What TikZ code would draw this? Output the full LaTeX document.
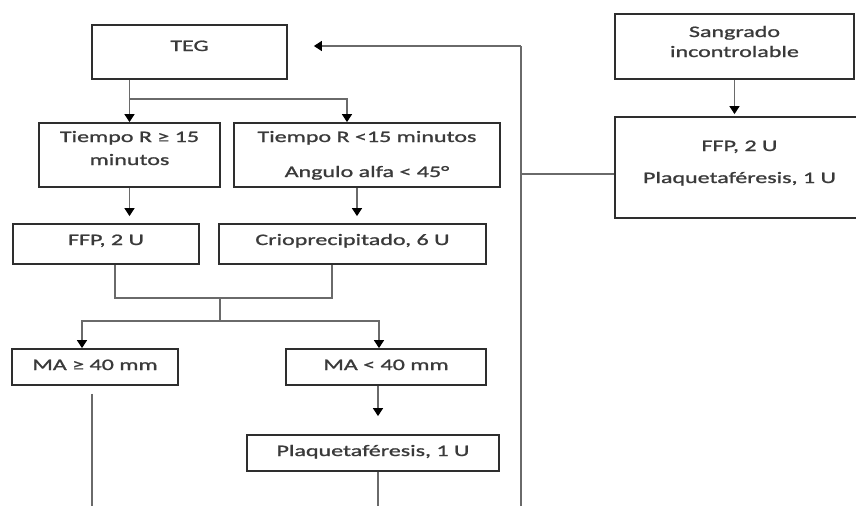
\documentclass[tikz,border=0pt]{standalone}
\usepackage{fontspec}
\setmainfont{Carlito}[FakeStretch=1.5,FakeBold=1.2]
\usetikzlibrary{arrows.meta}
\definecolor{ink}{HTML}{3A3A3A}
\definecolor{frame}{HTML}{2E2E2E}
\definecolor{wire}{HTML}{6A6A6A}
\begin{document}
\begin{tikzpicture}[x=1pt,y=-1pt,
  box/.style={draw=frame, line width=1.8pt, inner sep=0pt, fill=none},
  txt/.style={anchor=base, text=ink, inner sep=0pt, font=\fontsize{16}{19}\selectfont},
  wireline/.style={draw=wire, line width=1.4pt},
  arrowline/.style={wireline, -{Triangle[width=10pt,length=8pt,black]}}]
\useasboundingbox (0,0) rectangle (856,506);
\clip (0,0) rectangle (856,506);
\fill[white] (0,0) rectangle (856,506);

% boxes
\node[box, minimum width=195pt, minimum height=54pt] (teg)  at (189.5,52)  {};
\node[box, minimum width=181pt, minimum height=64pt] (b1)   at (129.5,155) {};
\node[box, minimum width=266pt, minimum height=64pt] (b2)   at (367,155)   {};
\node[box, minimum width=186pt, minimum height=40pt] (ffp)  at (106,244)   {};
\node[box, minimum width=267pt, minimum height=40pt] (crio) at (352.5,244) {};
\node[box, minimum width=166pt, minimum height=36pt] (ma1)  at (95,367)    {};
\node[box, minimum width=200pt, minimum height=36pt] (ma2)  at (386,367)   {};
\node[box, minimum width=252pt, minimum height=36pt] (plaq) at (373,453)   {};
\node[box, minimum width=239pt, minimum height=65pt] (sang) at (734.5,46.5) {};
\node[box, minimum width=249pt, minimum height=101pt] (ffp2) at (739.5,167.5) {};

% texts
\node[txt] (teg-t)   at (189.5,51)  {TEG};
\node[txt] (b1-t1)   at (129.5,142) {Tiempo R ≥ 15};
\node[txt] (b1-t2)   at (129.5,165) {minutos};
\node[txt] (b2-t1)   at (367,142)   {Tiempo R <15 minutos};
\node[txt] (b2-t2)   at (367,177)   {Angulo alfa < 45°};
\node[txt] (ffp-t)   at (106,245)   {FFP, 2 U};
\node[txt] (crio-t)  at (352.5,245) {Crioprecipitado, 6 U};
\node[txt] (ma1-t)   at (95,370)    {MA ≥ 40 mm};
\node[txt] (ma2-t)   at (386,370)   {MA < 40 mm};
\node[txt] (plaq-t)  at (373,456)   {Plaquetaféresis, 1 U};
\node[txt] (sang-t1) at (734.5,37)  {Sangrado};
\node[txt] (sang-t2) at (734.5,57)  {incontrolable};
\node[txt] (ffp2-t1) at (739.5,151) {FFP, 2 U};
\node[txt] (ffp2-t2) at (739.5,183) {Plaquetaféresis, 1 U};

% junctions and free ends
\path (teg.south -| b1.north) ++(0,19) coordinate (j1);
\coordinate (j2) at (220,298);
\coordinate (j3) at (220,321);
\coordinate (e1) at (92,506);
\coordinate (e2) at (378,506);
\coordinate (top) at (521,46);
\coordinate (e3) at (521,506);
\coordinate (k) at (521,174);

% TEG branches
\draw[arrowline] (teg.south -| b1.north) -- (b1.north);
\draw[arrowline] (j1) -| ([xshift=-20pt]b2.north);
\draw[arrowline, shorten >=7pt] (b1.south) -- (b1.south |- ffp.north);
\draw[arrowline, shorten >=7pt] ([xshift=-10pt]b2.south) -- ([xshift=-10pt]b2.south |- crio.north);

% merge and MA branches
\draw[wireline] ([xshift=9pt]ffp.south) |- (j2) -| ([xshift=-20.5pt]crio.south);
\draw[wireline] (j2) -- (j3);
\draw[arrowline] (j3) -| ([xshift=-13pt]ma1.north);
\draw[arrowline] (j3) -| ([xshift=-7pt]ma2.north);
\draw[arrowline, shorten >=18pt] ([xshift=-8pt]ma2.south) -- ([xshift=-8pt]ma2.south |- plaq.north);
\draw[wireline, shorten <=8pt] (ma1.south -| e1) -- (e1);
\draw[wireline] (plaq.south -| e2) -- (e2);

% return path to TEG
\draw[wireline, line width=2pt] (e3) -- (top);
\draw[arrowline, shorten >=26pt] (top) -- (teg.east |- top);
\draw[wireline] (k) -- (k -| ffp2.west);

% uncontrolled bleeding
\draw[arrowline, shorten >=2pt] (sang.south) -- (sang.south |- ffp2.north);
\end{tikzpicture}
\end{document}
